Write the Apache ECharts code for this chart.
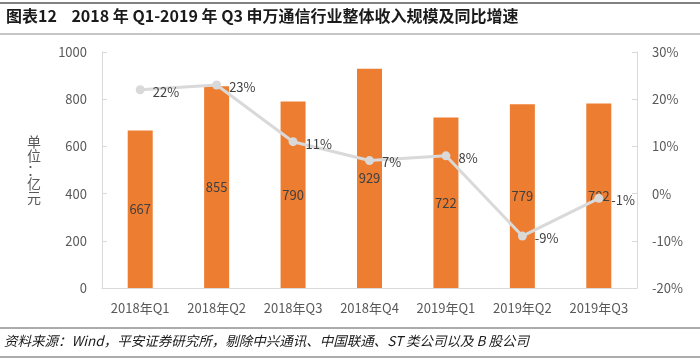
<!DOCTYPE html>
<html>
<head>
<meta charset="utf-8">
<script src="https://cdn.jsdelivr.net/npm/echarts@6/dist/echarts.min.js"></script>
<style>html,body{margin:0;padding:0;background:#fff}#c{width:700px;height:360px}</style>
</head>
<body>
<div id="c"></div>
<script>
var categories = ['2018年Q1','2018年Q2','2018年Q3','2018年Q4','2019年Q1','2019年Q2','2019年Q3'];
var revenue = [667, 855, 790, 929, 722, 779, 782];
var growth = [22, 23, 11, 7, 8, -9, -1];
var leftTicks = [0, 200, 400, 600, 800, 1000];
var rightTicks = [-20, -10, 0, 10, 20, 30];

var FONT = '"Noto Sans CJK SC", "Noto Sans", sans-serif';
var chart = echarts.init(document.getElementById('c'), null, {renderer: 'canvas'});
chart.setOption({
  backgroundColor: '#fff',
  animation: false,
  textStyle: {fontFamily: FONT},
  grid: {left: 102, right: 63, top: 52, bottom: 72},
  graphic: [
    {type: 'line', shape: {x1: 0, y1: 3, x2: 700, y2: 3}, style: {stroke: '#595959', lineWidth: 1.5}},
    {type: 'text', left: 6, top: 8, style: {text: '图表12    2018 年 Q1-2019 年 Q3 申万通信行业整体收入规模及同比增速', fontSize: 16, fontWeight: 'bold', fill: '#1a1a1a', fontFamily: FONT}},
    {type: 'line', shape: {x1: 0, y1: 34, x2: 700, y2: 34}, style: {stroke: '#8c8c8c', lineWidth: 1}},
    {type: 'text', left: 27, top: 135, style: {text: '单\n位\n：\n亿\n元', fontSize: 14, lineHeight: 14, fill: '#595959', fontFamily: FONT}},
    {type: 'line', shape: {x1: 0, y1: 328, x2: 700, y2: 328}, style: {stroke: '#595959', lineWidth: 1}},
    {type: 'text', left: 4, top: 334, style: {text: '资料来源：Wind，平安证券研究所，剔除中兴通讯、中国联通、ST 类公司以及 B 股公司', fontSize: 13.5, fontStyle: 'italic', fill: '#1a1a1a', fontFamily: FONT}},
    {type: 'line', shape: {x1: 0, y1: 357, x2: 700, y2: 357}, style: {stroke: '#595959', lineWidth: 1}}
  ],
  xAxis: {
    type: 'category', data: categories,
    axisLine: {lineStyle: {color: '#d9d9d9'}},
    axisTick: {inside: true, length: 5, lineStyle: {color: '#d9d9d9'}},
    axisLabel: {color: '#595959', fontSize: 13, margin: 14}
  },
  yAxis: [
    {type: 'value', min: leftTicks[0], max: leftTicks[leftTicks.length-1], interval: 200,
     axisLine: {show: true, lineStyle: {color: '#d9d9d9'}},
     axisTick: {show: true, inside: true, length: 5, lineStyle: {color: '#d9d9d9'}},
     splitLine: {show: false},
     axisLabel: {color: '#595959', fontSize: 13, margin: 15, formatter: function (v) { return String(v); }}},
    {type: 'value', min: rightTicks[0], max: rightTicks[rightTicks.length-1], interval: 10,
     axisLine: {show: true, lineStyle: {color: '#d9d9d9'}},
     axisTick: {show: true, inside: true, length: 5, lineStyle: {color: '#d9d9d9'}},
     splitLine: {show: false},
     axisLabel: {color: '#595959', fontSize: 13, margin: 15, formatter: '{value}%'}}
  ],
  series: [
    {type: 'bar', data: revenue, barWidth: 25, yAxisIndex: 0,
     itemStyle: {color: '#ED7D31'},
     label: {show: true, position: 'inside', color: '#404040', fontSize: 13}},
    {type: 'line', data: growth, yAxisIndex: 1, z: 5,
     lineStyle: {color: '#d9d9d9', width: 3},
     itemStyle: {color: '#d9d9d9'},
     symbol: 'circle', symbolSize: 9,
     label: {show: true, position: 'right', color: '#404040', fontSize: 13, formatter: '{c}%', distance: 8, offset: [0, 2]}}
  ]
});
</script>
</body>
</html>
